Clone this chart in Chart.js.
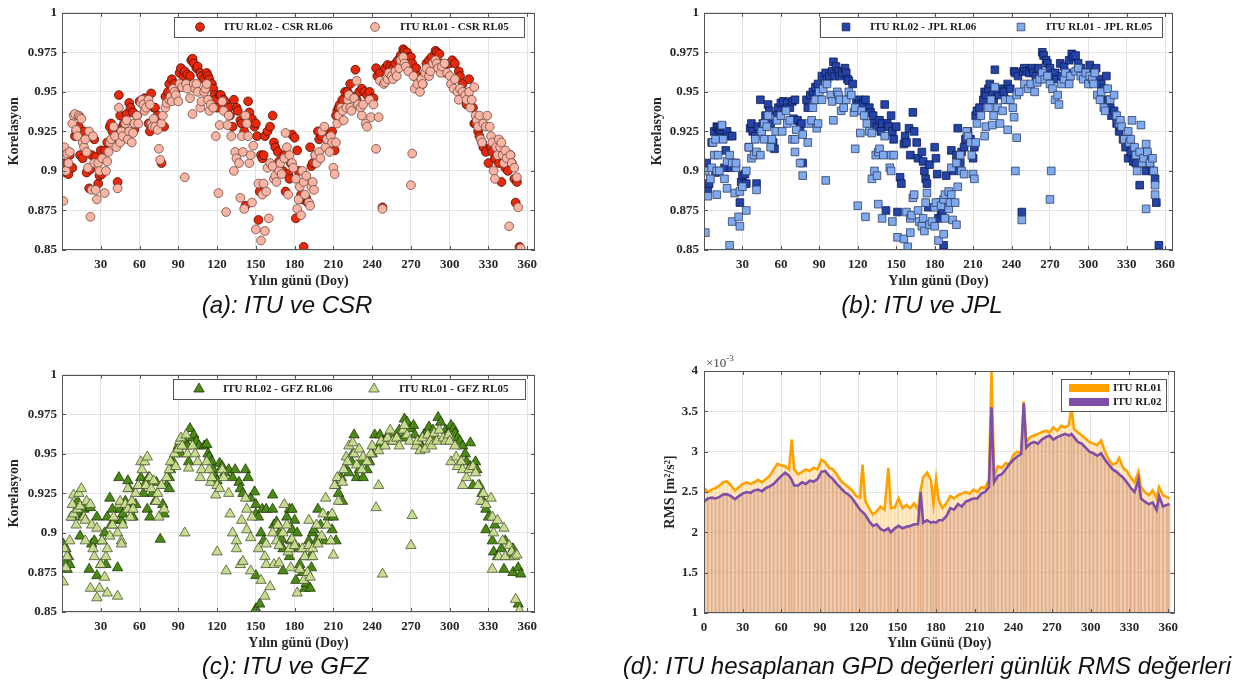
<!DOCTYPE html>
<html>
<head>
<meta charset="utf-8">
<style>
  body { margin: 0; background: #fff; width: 1240px; height: 687px; position: relative; overflow: hidden; }
  canvas { position: absolute; }
  .cap { position: absolute; font: italic 24px "Liberation Sans", Arial, sans-serif; color: #111; white-space: nowrap; transform: translate(-50%, -50%); }
</style>
</head>
<body>
<canvas id="chartCSR" width="545" height="295" style="left:0;top:0"></canvas>
<canvas id="chartJPL" width="545" height="295" style="left:640px;top:0"></canvas>
<canvas id="chartGFZ" width="545" height="295" style="left:0;top:362px"></canvas>
<canvas id="chartRMS" width="545" height="307" style="left:640px;top:350px"></canvas>
<div class="cap" style="left:287px;top:305px">(a): ITU ve CSR</div>
<div class="cap" style="left:922px;top:305px">(b): ITU ve JPL</div>
<div class="cap" style="left:285px;top:666px">(c): ITU ve GFZ</div>
<div class="cap" style="left:927px;top:666px">(d): ITU hesaplanan GPD değerleri günlük RMS değerleri</div>

<script src="https://cdn.jsdelivr.net/npm/chart.js"></script>
<script>
// [day, correlation]
const csrRL06 = [[1,.905],[2,.912],[3,.899],[5,.898],[6,.910],[8,.902],[10,.922],[11,.925],[13,.928],[14,.910],[16,.908],[17,.925],[19,.899],[21,.889],[22,.901],[23,.910],[25,.920],[26,.909],[28,.892],[29,.897],[30,.913],[31,.898],[33,.913],[35,.918],[37,.928],[38,.930],[39,.925],[41,.921],[43,.893],[44,.948],[45,.935],[47,.928],[48,.930],[50,.936],[52,.943],[53,.940],[55,.937],[56,.926],[58,.935],[60,.944],[62,.945],[64,.946],[66,.942],[67,.930],[68,.925],[69,.949],[71,.940],[72,.940],[74,.935],[75,.930],[77,.905],[79,.928],[80,.947],[82,.950],[83,.955],[85,.958],[87,.955],[89,.952],[91,.962],[92,.965],[94,.960],[95,.963],[97,.961],[99,.960],[100,.970],[101,.971],[102,.968],[104,.965],[105,.966],[107,.962],[108,.960],[110,.958],[112,.962],[113,.960],[114,.958],[116,.955],[117,.952],[118,.948],[119,.945],[120,.940],[122,.948],[123,.948],[125,.945],[127,.943],[129,.940],[130,.935],[132,.928],[133,.945],[135,.940],[136,.938],[138,.932],[139,.930],[141,.925],[142,.878],[144,.944],[145,.937],[147,.933],[149,.928],[150,.930],[151,.922],[152,.869],[153,.887],[154,.910],[155,.908],[156,.910],[157,.922],[159,.925],[161,.928],[163,.935],[164,.918],[165,.915],[167,.912],[168,.906],[170,.900],[171,.900],[172,.910],[173,.887],[175,.898],[176,.895],[177,.905],[178,.923],[180,.921],[181,.870],[182,.913],[183,.900],[185,.885],[186,.882],[187,.852],[189,.883],[190,.880],[192,.915],[193,.903],[194,.905],[196,.910],[198,.925],[199,.920],[201,.922],[203,.925],[205,.920],[207,.920],[209,.925],[211,.913],[212,.935],[213,.938],[214,.940],[215,.942],[217,.945],[219,.950],[221,.950],[223,.955],[225,.947],[227,.964],[228,.945],[230,.950],[232,.952],[234,.950],[236,.948],[238,.950],[240,.946],[241,.946],[243,.965],[244,.960],[246,.962],[248,.877],[250,.965],[252,.967],[254,.966],[256,.965],[258,.968],[260,.970],[262,.973],[264,.977],[265,.976],[267,.975],[268,.972],[270,.972],[271,.968],[273,.960],[274,.965],[276,.960],[278,.958],[279,.955],[280,.960],[282,.968],[284,.970],[286,.972],[289,.976],[290,.975],[292,.974],[293,.968],[295,.965],[297,.962],[300,.968],[302,.970],[304,.968],[307,.963],[308,.960],[310,.955],[311,.950],[312,.945],[313,.942],[315,.958],[316,.945],[318,.940],[319,.930],[320,.930],[322,.925],[323,.922],[325,.918],[326,.915],[328,.912],[330,.905],[332,.915],[333,.912],[335,.908],[337,.910],[338,.905],[340,.893],[342,.906],[343,.902],[345,.900],[347,.910],[348,.905],[350,.895],[351,.880],[352,.893],[354,.852]];
const csrRL05 = [[1,.881],[2,.915],[3,.900],[4,.911],[5,.905],[6,.912],[8,.930],[9,.935],[10,.936],[11,.926],[12,.922],[13,.935],[14,.934],[15,.933],[16,.918],[17,.915],[18,.920],[19,.912],[20,.902],[21,.925],[22,.871],[23,.888],[24,.922],[25,.905],[26,.888],[27,.882],[28,.905],[29,.900],[31,.908],[33,.886],[34,.900],[35,.906],[36,.912],[37,.918],[38,.920],[40,.928],[41,.922],[42,.915],[43,.889],[44,.940],[45,.918],[46,.925],[47,.922],[49,.930],[50,.932],[51,.920],[52,.925],[54,.918],[55,.924],[56,.930],[58,.935],[59,.930],[61,.943],[62,.945],[63,.942],[64,.938],[65,.940],[67,.945],[68,.942],[69,.930],[70,.928],[71,.933],[72,.928],[74,.926],[75,.914],[76,.907],[77,.930],[78,.935],[80,.940],[81,.943],[83,.945],[84,.947],[85,.944],[86,.952],[87,.950],[88,.948],[90,.944],[91,.955],[93,.953],[95,.896],[96,.955],[97,.952],[99,.946],[101,.936],[102,.955],[103,.952],[104,.955],[105,.950],[107,.940],[108,.944],[110,.950],[111,.952],[112,.955],[113,.945],[114,.938],[115,.942],[117,.940],[119,.922],[121,.886],[122,.929],[124,.944],[125,.938],[127,.874],[128,.929],[129,.935],[131,.922],[133,.900],[134,.912],[135,.908],[137,.905],[138,.883],[139,.922],[140,.912],[141,.876],[142,.935],[143,.930],[144,.922],[145,.905],[146,.910],[147,.880],[148,.916],[150,.863],[152,.892],[154,.856],[155,.885],[156,.892],[157,.862],[158,.887],[159,.902],[160,.870],[161,.905],[163,.903],[164,.895],[165,.897],[166,.893],[168,.900],[169,.905],[170,.898],[172,.908],[173,.924],[174,.915],[175,.885],[176,.910],[178,.905],[179,.902],[181,.895],[182,.876],[183,.882],[184,.890],[185,.872],[186,.900],[187,.893],[188,.885],[189,.897],[191,.880],[192,.878],[193,.890],[194,.893],[195,.888],[196,.910],[197,.905],[199,.912],[200,.908],[201,.925],[203,.928],[204,.915],[205,.920],[207,.912],[208,.922],[209,.918],[210,.902],[211,.898],[212,.918],[213,.930],[214,.935],[216,.940],[217,.938],[218,.932],[220,.940],[221,.945],[222,.948],[223,.940],[224,.938],[226,.946],[228,.957],[229,.942],[231,.940],[232,.935],[233,.942],[235,.930],[236,.928],[238,.945],[239,.934],[241,.942],[243,.914],[245,.934],[246,.957],[248,.876],[249,.955],[250,.956],[252,.958],[253,.962],[255,.960],[256,.958],[258,.963],[259,.960],[261,.965],[262,.970],[264,.972],[265,.968],[266,.966],[268,.963],[270,.891],[271,.911],[272,.960],[273,.952],[275,.955],[277,.950],[278,.958],[279,.955],[281,.962],[282,.965],[284,.960],[285,.963],[287,.968],[289,.970],[290,.968],[291,.965],[293,.962],[294,.966],[296,.968],[298,.962],[300,.960],[301,.955],[303,.952],[304,.958],[306,.950],[307,.945],[308,.952],[310,.950],[312,.948],[313,.945],[315,.950],[316,.940],[317,.945],[319,.953],[320,.935],[321,.932],[322,.928],[323,.935],[324,.920],[325,.918],[326,.930],[328,.928],[329,.935],[331,.928],[332,.922],[333,.918],[334,.900],[335,.895],[336,.915],[337,.910],[338,.920],[339,.915],[340,.918],[341,.910],[342,.905],[343,.913],[344,.908],[346,.865],[347,.910],[348,.905],[350,.902],[352,.896],[353,.877],[355,.851]];

// panel (b)
const jplRL06 = [[1,.903],[2,.905],[3,.888],[4,.892],[6,.918],[8,.925],[9,.899],[10,.928],[11,.927],[12,.925],[13,.926],[14,.928],[16,.902],[17,.913],[18,.925],[20,.922],[21,.902],[22,.922],[24,.905],[28,.880],[29,.893],[30,.897],[32,.898],[33,.892],[35,.915],[36,.927],[37,.930],[38,.925],[40,.922],[41,.892],[42,.928],[44,.945],[46,.930],[48,.935],[50,.942],[51,.938],[52,.930],[54,.918],[55,.914],[57,.935],[58,.940],[60,.943],[62,.944],[65,.943],[67,.940],[69,.944],[70,.933],[71,.945],[73,.932],[75,.928],[76,.930],[77,.905],[80,.945],[81,.940],[83,.948],[85,.950],[87,.953],[88,.948],[89,.955],[92,.960],[95,.962],[96,.958],[98,.960],[100,.963],[101,.969],[102,.960],[103,.966],[105,.963],[106,.960],[108,.962],[110,.965],[111,.962],[112,.958],[113,.957],[116,.955],[119,.943],[121,.945],[123,.943],[124,.942],[126,.945],[129,.940],[130,.937],[132,.935],[133,.930],[135,.928],[137,.932],[138,.925],[139,.930],[141,.942],[142,.875],[143,.930],[144,.928],[146,.935],[147,.925],[148,.920],[150,.928],[151,.874],[153,.896],[154,.892],[156,.917],[157,.922],[158,.918],[160,.927],[161,.910],[163,.937],[164,.925],[166,.918],[167,.908],[170,.912],[171,.906],[172,.900],[173,.895],[174,.892],[175,.877],[176,.904],[180,.915],[181,.908],[182,.898],[183,.870],[184,.880],[185,.873],[186,.875],[187,.853],[188,.880],[189,.897],[193,.913],[195,.900],[197,.910],[198,.927],[200,.905],[201,.912],[203,.915],[204,.920],[206,.925],[208,.920],[210,.908],[211,.915],[212,.935],[213,.938],[215,.940],[218,.945],[219,.950],[220,.948],[222,.952],[223,.955],[225,.948],[226,.945],[227,.964],[229,.950],[230,.948],[232,.952],[234,.950],[236,.945],[237,.955],[239,.952],[242,.963],[243,.962],[245,.960],[248,.874],[249,.963],[250,.965],[252,.963],[254,.962],[256,.965],[257,.962],[259,.960],[261,.965],[264,.975],[265,.973],[267,.970],[268,.968],[270,.965],[272,.960],[274,.962],[275,.958],[278,.968],[279,.960],[281,.966],[283,.962],[285,.970],[287,.974],[288,.972],[290,.973],[292,.968],[294,.965],[296,.960],[298,.962],[301,.967],[302,.962],[304,.960],[306,.965],[308,.958],[310,.955],[312,.952],[314,.960],[315,.945],[317,.940],[318,.935],[320,.938],[322,.930],[324,.925],[325,.928],[327,.920],[329,.915],[331,.908],[333,.912],[335,.906],[337,.905],[340,.891],[341,.910],[343,.905],[345,.900],[346,.910],[348,.905],[350,.900],[352,.895],[353,.880],[355,.853]];
const jplRL05 = [[1,.861],[1,.900],[3,.884],[5,.895],[6,.902],[7,.918],[8,.910],[9,.920],[10,.885],[10,.900],[11,.910],[12,.900],[14,.929],[15,.920],[16,.895],[18,.906],[18,.889],[20,.910],[20,.853],[22,.868],[22,.905],[24,.886],[25,.902],[25,.905],[27,.871],[28,.865],[28,.887],[30,.890],[33,.875],[33,.900],[35,.915],[37,.908],[39,.910],[40,.920],[41,.912],[41,.888],[44,.910],[45,.925],[47,.930],[47,.920],[49,.928],[50,.935],[52,.915],[53,.920],[56,.925],[57,.932],[60,.935],[61,.925],[64,.938],[65,.930],[67,.932],[69,.920],[71,.920],[71,.912],[72,.926],[75,.905],[77,.897],[77,.923],[81,.918],[82,.930],[84,.932],[85,.940],[87,.945],[88,.927],[89,.930],[90,.950],[92,.945],[93,.952],[95,.894],[96,.955],[99,.948],[100,.944],[101,.932],[104,.950],[105,.948],[106,.945],[107,.938],[109,.940],[111,.945],[113,.950],[115,.948],[117,.937],[118,.940],[118,.914],[120,.878],[122,.924],[123,.938],[125,.935],[126,.871],[127,.930],[129,.925],[131,.924],[131,.895],[133,.900],[134,.910],[135,.897],[136,.912],[136,.879],[137,.914],[139,.870],[140,.910],[141,.922],[145,.902],[146,.900],[146,.910],[147,.868],[148,.910],[151,.858],[156,.857],[158,.874],[159,.852],[161,.870],[161,.861],[162,.872],[163,.883],[164,.885],[167,.875],[168,.868],[170,.865],[171,.870],[172,.862],[173,.880],[174,.886],[176,.866],[178,.868],[180,.877],[180,.865],[181,.880],[183,.856],[185,.878],[187,.860],[187,.882],[188,.870],[188,.885],[191,.887],[191,.876],[192,.880],[193,.885],[193,.902],[194,.869],[196,.880],[197,.866],[197,.905],[198,.890],[200,.910],[201,.900],[203,.898],[205,.925],[206,.922],[208,.918],[209,.910],[210,.898],[211,.895],[212,.918],[213,.930],[216,.935],[219,.922],[220,.928],[222,.940],[224,.945],[225,.929],[226,.935],[227,.953],[229,.940],[231,.930],[233,.938],[235,.945],[237,.926],[239,.945],[241,.940],[242,.934],[243,.900],[244,.921],[244,.948],[246,.950],[248,.869],[250,.955],[253,.952],[255,.955],[258,.950],[260,.956],[262,.958],[264,.962],[266,.958],[268,.960],[270,.955],[270,.882],[271,.900],[272,.952],[274,.945],[276,.948],[277,.942],[279,.955],[281,.958],[282,.962],[285,.955],[286,.960],[290,.963],[292,.965],[294,.960],[296,.958],[298,.962],[300,.955],[301,.960],[303,.958],[304,.955],[305,.962],[307,.948],[309,.945],[310,.950],[312,.940],[313,.938],[315,.952],[317,.945],[320,.948],[322,.935],[324,.930],[325,.932],[326,.928],[328,.920],[331,.925],[332,.918],[333,.920],[334,.932],[336,.915],[337,.910],[338,.900],[340,.912],[341,.929],[342,.905],[343,.908],[345,.917],[345,.876],[346,.912],[348,.905],[350,.908],[351,.900],[352,.891],[352,.885]];

// panel (c)
const gfzRL06 = [[1,.893],[2,.882],[3,.890],[4,.877],[5,.885],[6,.880],[8,.910],[12,.912],[12,.920],[14,.898],[16,.910],[17,.915],[21,.877],[22,.916],[23,.893],[25,.895],[27,.910],[27,.873],[30,.880],[31,.895],[33,.900],[34,.880],[35,.910],[37,.922],[38,.905],[39,.915],[41,.908],[43,.878],[44,.935],[45,.915],[46,.908],[47,.912],[49,.920],[51,.933],[52,.928],[54,.915],[55,.910],[57,.918],[59,.930],[61,.935],[63,.925],[65,.932],[66,.915],[67,.935],[68,.910],[70,.925],[72,.920],[73,.932],[76,.896],[78,.918],[79,.912],[81,.930],[83,.935],[83,.928],[84,.940],[86,.945],[90,.955],[92,.950],[95,.958],[97,.955],[98,.945],[99,.966],[101,.960],[102,.962],[104,.958],[106,.955],[110,.955],[112,.956],[113,.950],[114,.948],[116,.945],[117,.940],[119,.935],[120,.933],[122,.944],[124,.942],[126,.938],[129,.940],[132,.935],[134,.940],[137,.932],[138,.928],[140,.925],[142,.940],[144,.935],[146,.922],[149,.926],[150,.918],[150,.912],[150,.873],[150,.852],[152,.910],[153,.855],[154,.900],[155,.915],[156,.895],[158,.915],[163,.924],[163,.915],[164,.905],[166,.907],[168,.900],[170,.896],[171,.890],[171,.876],[174,.910],[176,.915],[176,.885],[177,.895],[178,.902],[178,.915],[180,.908],[181,.870],[182,.900],[183,.890],[184,.880],[186,.875],[188,.885],[188,.865],[189,.868],[191,.895],[192,.865],[192,.885],[193,.878],[194,.900],[195,.902],[197,.895],[198,.915],[200,.905],[203,.895],[206,.910],[209,.902],[210,.910],[212,.895],[212,.930],[214,.925],[216,.935],[217,.920],[220,.940],[222,.938],[224,.945],[225,.950],[226,.962],[228,.935],[230,.940],[232,.945],[233,.935],[236,.940],[238,.945],[240,.950],[242,.962],[245,.955],[246,.962],[248,.958],[251,.960],[253,.962],[256,.958],[259,.962],[261,.965],[264,.960],[265,.972],[267,.970],[270,.966],[272,.968],[273,.962],[276,.958],[278,.955],[280,.962],[283,.965],[284,.967],[287,.965],[288,.960],[291,.973],[293,.970],[297,.965],[298,.962],[301,.968],[303,.966],[304,.963],[306,.960],[308,.958],[310,.955],[312,.950],[313,.945],[316,.957],[316,.942],[318,.930],[320,.945],[321,.940],[323,.930],[325,.925],[326,.920],[328,.915],[328,.902],[330,.910],[333,.895],[334,.888],[335,.905],[337,.885],[340,.890],[342,.877],[343,.895],[346,.885],[349,.890],[349,.875],[353,.878],[353,.855],[355,.874]];
const gfzRL05 = [[1,.869],[2,.890],[3,.878],[4,.885],[6,.895],[7,.910],[8,.918],[9,.912],[9,.924],[11,.905],[12,.915],[13,.925],[14,.917],[15,.928],[17,.910],[18,.908],[18,.895],[19,.920],[22,.865],[22,.918],[23,.905],[24,.890],[25,.885],[27,.903],[27,.859],[29,.865],[30,.880],[31,.895],[33,.872],[34,.885],[35,.862],[35,.890],[37,.898],[39,.905],[40,.910],[43,.860],[43,.900],[45,.918],[45,.920],[46,.895],[46,.893],[47,.905],[49,.918],[51,.915],[51,.928],[53,.910],[54,.920],[55,.915],[57,.925],[59,.930],[61,.945],[62,.940],[64,.945],[65,.930],[66,.948],[68,.935],[69,.928],[71,.933],[73,.920],[74,.925],[75,.910],[77,.930],[79,.915],[81,.935],[83,.940],[84,.945],[87,.950],[88,.942],[90,.953],[91,.958],[92,.960],[93,.955],[95,.900],[96,.962],[97,.950],[98,.941],[101,.955],[103,.950],[105,.945],[107,.935],[108,.940],[112,.945],[114,.940],[115,.932],[116,.935],[119,.924],[120,.930],[120,.888],[122,.928],[124,.940],[125,.935],[127,.876],[129,.925],[130,.912],[132,.900],[135,.895],[135,.890],[138,.880],[139,.908],[140,.882],[142,.922],[143,.915],[143,.902],[146,.897],[146,.876],[147,.910],[152,.890],[154,.870],[157,.860],[157,.885],[158,.880],[158,.893],[161,.866],[163,.900],[164,.880],[166,.895],[167,.905],[168,.892],[168,.881],[171,.900],[172,.918],[174,.905],[175,.888],[176,.890],[177,.878],[178,.896],[180,.892],[182,.862],[184,.877],[186,.890],[187,.870],[188,.885],[190,.875],[191,.892],[191,.908],[192,.872],[194,.890],[194,.885],[197,.905],[198,.893],[201,.898],[202,.912],[204,.922],[205,.905],[208,.895],[209,.912],[210,.886],[211,.930],[213,.935],[214,.920],[217,.932],[218,.940],[220,.948],[221,.945],[222,.955],[225,.957],[226,.950],[228,.943],[230,.953],[232,.940],[233,.948],[236,.945],[239,.950],[240,.955],[243,.916],[245,.930],[245,.952],[247,.958],[248,.874],[250,.955],[252,.960],[254,.965],[256,.958],[259,.960],[261,.955],[264,.965],[265,.968],[267,.962],[269,.958],[270,.892],[271,.911],[274,.955],[275,.958],[277,.952],[279,.960],[281,.953],[283,.962],[285,.958],[286,.955],[288,.963],[290,.958],[292,.965],[295,.960],[297,.958],[299,.962],[300,.958],[301,.945],[304,.955],[305,.948],[306,.942],[309,.945],[310,.940],[310,.930],[313,.935],[315,.940],[318,.942],[320,.938],[322,.930],[324,.920],[326,.925],[328,.918],[332,.922],[333,.910],[333,.877],[334,.900],[337,.908],[338,.885],[341,.895],[342,.903],[343,.885],[346,.892],[348,.888],[350,.885],[351,.858],[352,.886],[354,.851]];

// panel (d): daily RMS, units of 1e-3 m^2/s^2
const rmsDays  = [0,3,6,9,12,15,18,21,24,27,30,33,36,39,42,45,48,51,54,57,60,63,66,68,70,73,76,79,82,85,88,91,94,97,100,103,106,109,112,115,118,121,123,125,128,131,134,137,140,143,145,148,151,154,157,160,163,166,168,170,173,176,178,180,182,185,188,191,194,197,200,203,206,209,212,215,218,221,223,225,228,231,234,237,240,243,246,248,250,253,256,259,262,265,268,271,274,277,280,283,285,287,290,293,296,299,302,305,308,311,314,317,320,322,325,328,331,334,337,339,342,345,348,351,353,356,359,361];
const rmsRL01 = [2.55,2.50,2.53,2.55,2.58,2.62,2.63,2.58,2.52,2.56,2.60,2.62,2.60,2.62,2.65,2.62,2.66,2.70,2.78,2.85,2.83,2.82,2.78,3.15,2.78,2.72,2.75,2.78,2.76,2.80,2.78,2.90,2.87,2.80,2.78,2.72,2.64,2.60,2.56,2.52,2.45,2.43,2.84,2.40,2.30,2.22,2.26,2.32,2.28,2.80,2.30,2.31,2.42,2.30,2.34,2.30,2.36,2.28,2.52,2.68,2.74,2.65,2.35,2.66,2.40,2.30,2.36,2.45,2.42,2.46,2.48,2.50,2.48,2.53,2.50,2.56,2.55,2.65,4.00,2.70,2.82,2.80,2.86,2.84,2.96,3.00,2.98,3.62,3.12,3.18,3.20,3.22,3.24,3.26,3.24,3.30,3.26,3.32,3.30,3.33,3.55,3.28,3.24,3.20,3.16,3.12,3.10,3.08,3.14,3.00,2.90,2.84,2.86,2.92,2.80,2.76,2.68,2.62,2.75,2.56,2.50,2.46,2.52,2.42,2.56,2.46,2.44,2.42];
const rmsRL02 = [2.38,2.42,2.43,2.42,2.44,2.47,2.47,2.45,2.41,2.45,2.48,2.50,2.49,2.52,2.53,2.51,2.55,2.57,2.60,2.65,2.70,2.74,2.70,2.65,2.58,2.58,2.62,2.60,2.64,2.63,2.66,2.75,2.76,2.70,2.66,2.60,2.55,2.50,2.47,2.42,2.35,2.28,2.25,2.22,2.14,2.08,2.10,2.04,2.02,2.05,2.00,2.05,2.08,2.05,2.07,2.08,2.10,2.10,2.50,2.12,2.15,2.12,2.13,2.12,2.15,2.15,2.20,2.30,2.28,2.35,2.32,2.38,2.40,2.42,2.42,2.48,2.50,2.56,3.55,2.62,2.70,2.72,2.78,2.85,2.90,2.94,2.97,3.60,3.05,3.10,3.12,3.10,3.15,3.18,3.20,3.15,3.18,3.20,3.22,3.20,3.22,3.18,3.12,3.10,3.05,3.00,2.98,2.95,2.98,2.90,2.84,2.78,2.75,2.72,2.68,2.62,2.55,2.50,2.66,2.42,2.38,2.35,2.37,2.28,2.45,2.32,2.34,2.35];

const dayTicks = [30, 60, 90, 120, 150, 180, 210, 240, 270, 300, 330, 360];

const serif = "'Liberation Serif', 'Times New Roman', serif";
const ink = '#262626';
const gridColor = '#e3e3e3';
const tickFont = { family: serif, size: 13, weight: 'bold' };
const titleFont = { family: serif, size: 14, weight: 'bold' };

const toPoints = pairs => pairs.map(([x, y]) => ({ x, y }));

function drawMarker(ctx, style, x, y, r) {
    ctx.beginPath();
    if (style === 'rect') {
        const s = r * Math.SQRT1_2;
        ctx.rect(x - s, y - s, 2 * s, 2 * s);
    } else if (style === 'triangle') {
        let a = 0;
        ctx.moveTo(x + Math.sin(a) * r, y - Math.cos(a) * r);
        a += Math.PI * 2 / 3;
        ctx.lineTo(x + Math.sin(a) * r, y - Math.cos(a) * r);
        a += Math.PI * 2 / 3;
        ctx.lineTo(x + Math.sin(a) * r, y - Math.cos(a) * r);
        ctx.closePath();
    } else {
        ctx.arc(x, y, r, 0, Math.PI * 2);
    }
    ctx.fill();
    ctx.stroke();
}

// axes box with inward ticks, MATLAB style
const framePlugin = {
    id: 'frame',
    afterDatasetsDraw(chart) {
        const { ctx, chartArea: a, scales } = chart;
        ctx.save();
        ctx.strokeStyle = '#555';
        ctx.lineWidth = 1;
        ctx.strokeRect(Math.round(a.left) + 0.5, Math.round(a.top) + 0.5,
            Math.round(a.right - a.left) - 1, Math.round(a.bottom - a.top) - 1);
        ctx.beginPath();
        scales.x.ticks.forEach(t => {
            const px = Math.round(scales.x.getPixelForValue(t.value)) + 0.5;
            ctx.moveTo(px, a.bottom); ctx.lineTo(px, a.bottom - 4);
            ctx.moveTo(px, a.top); ctx.lineTo(px, a.top + 4);
        });
        scales.y.ticks.forEach(t => {
            const py = Math.round(scales.y.getPixelForValue(t.value)) + 0.5;
            ctx.moveTo(a.left, py); ctx.lineTo(a.left + 4, py);
            ctx.moveTo(a.right, py); ctx.lineTo(a.right - 4, py);
        });
        ctx.stroke();
        ctx.restore();
    }
};

// boxed legend inside the plot area
function boxLegend(cfg) {
    return {
        id: 'boxLegend',
        afterDraw(chart) {
            const ctx = chart.ctx;
            ctx.save();
            ctx.fillStyle = '#fff';
            ctx.fillRect(cfg.left, cfg.top, cfg.width, cfg.height);
            ctx.strokeStyle = '#555';
            ctx.lineWidth = 1;
            ctx.strokeRect(cfg.left + 0.5, cfg.top + 0.5, cfg.width, cfg.height);
            ctx.font = 'bold 11px ' + serif;
            ctx.textBaseline = 'middle';
            cfg.items.forEach(it => {
                const ds = chart.data.datasets[it.dataset];
                const cy = cfg.top + it.dy;
                if (it.swatch) {
                    ctx.strokeStyle = ds.borderColor;
                    ctx.lineWidth = 8;
                    ctx.beginPath();
                    ctx.moveTo(cfg.left + it.mx - 20, cy);
                    ctx.lineTo(cfg.left + it.mx + 20, cy);
                    ctx.stroke();
                } else {
                    ctx.fillStyle = ds.backgroundColor;
                    ctx.strokeStyle = ds.borderColor;
                    ctx.lineWidth = ds.borderWidth;
                    drawMarker(ctx, ds.pointStyle, cfg.left + it.mx, cy, ds.pointRadius);
                }
                ctx.fillStyle = '#1a1a1a';
                ctx.fillText(it.text, cfg.left + it.tx, cy);
            });
            ctx.restore();
        }
    };
}

function correlationChart(id, frame, series, legend) {
    return new Chart(document.getElementById(id), {
        type: 'scatter',
        data: {
            datasets: series.map(s => ({
                label: s.label,
                data: toPoints(s.data),
                pointStyle: s.style,
                pointRadius: s.radius,
                pointHoverRadius: s.radius,
                backgroundColor: s.fill,
                borderColor: s.edge,
                borderWidth: 0.8,
                order: s.order
            }))
        },
        options: {
            responsive: false,
            animation: false,
            layout: { padding: { left: 0, right: frame.padRight, top: frame.padTop, bottom: 0 } },
            plugins: { legend: { display: false }, tooltip: { enabled: false } },
            scales: {
                x: {
                    type: 'linear', min: 0, max: 366,
                    afterFit: s => { s.height = frame.xHeight; },
                    afterBuildTicks: s => { s.ticks = dayTicks.map(v => ({ value: v })); },
                    grid: { color: gridColor, drawTicks: false },
                    border: { display: false },
                    ticks: { padding: 7, color: ink, font: tickFont, maxRotation: 0 },
                    title: { display: true, text: 'Yılın günü (Doy)', color: ink, font: titleFont, padding: { top: 0, bottom: 5 } }
                },
                y: {
                    min: 0.85, max: 1,
                    afterFit: s => { s.width = frame.yWidth; },
                    grid: { color: gridColor, drawTicks: false },
                    border: { display: false },
                    ticks: { stepSize: 0.025, padding: 5, color: ink, font: tickFont, callback: v => String(+v.toFixed(3)) },
                    title: { display: true, text: 'Korelasyon', color: ink, font: titleFont, padding: { top: frame.titlePad, bottom: 0 } }
                }
            }
        },
        plugins: [framePlugin, boxLegend(legend)]
    });
}

const pairLegend = (left, width, a, b) => ({
    left: left, top: 17, width: width, height: 20,
    items: [
        { dataset: 0, dy: 10, mx: 26, tx: 50, text: a },
        { dataset: 1, dy: 10, mx: 201, tx: 226, text: b }
    ]
});

correlationChart('chartCSR', { yWidth: 62, padRight: 10, padTop: 9, xHeight: 45, titlePad: 6 }, [
    { label: 'ITU RL02 - CSR RL06', data: csrRL06, style: 'circle', radius: 4.4, fill: '#e8280b', edge: '#4a1206', order: 1 },
    { label: 'ITU RL01 - CSR RL05', data: csrRL05, style: 'circle', radius: 4.4, fill: '#f9b4a3', edge: '#6e4a42', order: 0 }
], pairLegend(174, 350, 'ITU RL02 - CSR RL06', 'ITU RL01 - CSR RL05'));

correlationChart('chartJPL', { yWidth: 64, padRight: 12, padTop: 9, xHeight: 45, titlePad: 9 }, [
    { label: 'ITU RL02 - JPL RL06', data: jplRL06, style: 'rect', radius: 5.4, fill: '#2444a8', edge: '#0d1b50', order: 1 },
    { label: 'ITU RL01 - JPL RL05', data: jplRL05, style: 'rect', radius: 5.4, fill: '#80a9ee', edge: '#2e4068', order: 0 }
], pairLegend(180, 342, 'ITU RL02 - JPL RL06', 'ITU RL01 - JPL RL05'));

correlationChart('chartGFZ', { yWidth: 62, padRight: 10, padTop: 9, xHeight: 45, titlePad: 6 }, [
    { label: 'ITU RL02 - GFZ RL06', data: gfzRL06, style: 'triangle', radius: 6, fill: '#4c8a15', edge: '#1d3806', order: 1 },
    { label: 'ITU RL01 - GFZ RL05', data: gfzRL05, style: 'triangle', radius: 6, fill: '#c8dc8f', edge: '#4b5631', order: 0 }
], pairLegend(173, 352, 'ITU RL02 - GFZ RL06', 'ITU RL01 - GFZ RL05'));

// x10^-3 exponent label above the RMS axis
const exponentLabel = {
    id: 'exponent',
    afterDraw(chart) {
        const { ctx, chartArea: a } = chart;
        ctx.save();
        ctx.fillStyle = '#444';
        ctx.textBaseline = 'middle';
        ctx.font = '13px ' + serif;
        ctx.fillText('×10', a.left + 2, a.top - 7);
        const w = ctx.measureText('×10').width;
        ctx.font = '9px ' + serif;
        ctx.fillText('-3', a.left + 2 + w, a.top - 12);
        ctx.restore();
    }
};

const rmsPoints = values => rmsDays.map((d, i) => ({ x: d, y: values[i] }));

new Chart(document.getElementById('chartRMS'), {
    type: 'line',
    data: {
        datasets: [
            { label: 'ITU RL01', data: rmsPoints(rmsRL01), borderColor: '#ffa200', backgroundColor: 'rgba(255,200,100,0.32)',
              borderWidth: 2.6, pointRadius: 0, fill: 'start', order: 1 },
            { label: 'ITU RL02', data: rmsPoints(rmsRL02), borderColor: '#7e4ea8', backgroundColor: 'rgba(200,140,128,0.32)',
              borderWidth: 2.6, pointRadius: 0, fill: 'start', order: 0 },
            { type: 'bar', label: 'RL02 bars', data: rmsPoints(rmsRL02), backgroundColor: 'rgba(214,138,100,0.45)',
              barThickness: 1, grouped: false, order: 2 },
            { type: 'bar', label: 'RL01 bars', data: rmsPoints(rmsRL01), backgroundColor: 'rgba(250,185,110,0.35)',
              barThickness: 1, grouped: false, order: 3 }
        ]
    },
    options: {
        responsive: false,
        animation: false,
        layout: { padding: { left: 0, right: 9, top: 21, bottom: 0 } },
        plugins: { legend: { display: false }, tooltip: { enabled: false } },
        scales: {
            x: {
                type: 'linear', min: 0, max: 365, offset: false,
                afterFit: s => { s.height = 44; },
                afterBuildTicks: s => { s.ticks = [0].concat(dayTicks).map(v => ({ value: v })); },
                grid: { color: gridColor, drawTicks: false, offset: false },
                border: { display: false },
                ticks: { padding: 7, color: ink, font: tickFont, maxRotation: 0 },
                title: { display: true, text: 'Yılın Günü (Doy)', color: ink, font: titleFont, padding: { top: 0, bottom: 5 } }
            },
            y: {
                min: 1, max: 4,
                afterFit: s => { s.width = 64; },
                grid: { color: gridColor, drawTicks: false },
                border: { display: false },
                ticks: { stepSize: 0.5, padding: 6, color: ink, font: tickFont, callback: v => String(+v.toFixed(2)) },
                title: { display: true, text: 'RMS [m²/s²]', color: ink, font: titleFont, padding: { top: 22, bottom: 0 } }
            }
        }
    },
    plugins: [framePlugin, exponentLabel, boxLegend({
        left: 421, top: 29, width: 105, height: 32,
        items: [
            { dataset: 0, swatch: true, dy: 9, mx: 28, tx: 52, text: 'ITU RL01' },
            { dataset: 1, swatch: true, dy: 23, mx: 28, tx: 52, text: 'ITU RL02' }
        ]
    })]
});
</script>
</body>
</html>
